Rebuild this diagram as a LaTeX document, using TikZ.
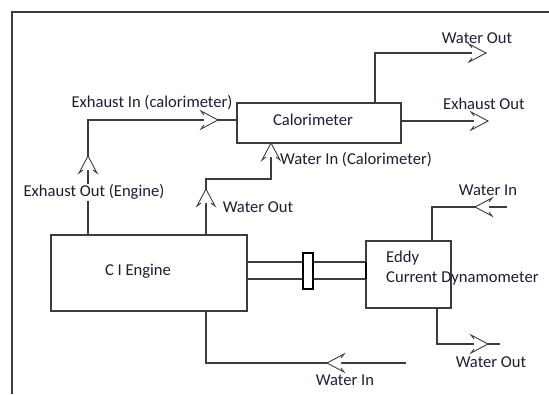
\documentclass[tikz,border=0pt]{standalone}
\usepackage{fontspec}
\setmainfont{Carlito}
\definecolor{linec}{HTML}{3C3C3C}
\definecolor{txtc}{HTML}{1A1F33}
\begin{document}
\begin{tikzpicture}[x=1pt,y=-1pt,
  every node/.style={font=\fontsize{16.6}{19}\selectfont, text=txtc, inner sep=0pt},
  box/.style={draw=linec, line width=1.2pt, fill=white, minimum width=#1},
  ln/.style={draw=linec, line width=1.1pt},
  lbl/.style={anchor=center},
  oarr/.pic={
    \fill[white] (0,0)--(-17,-9)--(-14,-5)--(-14,5)--(-17,9)--cycle;
    \draw[linec, line width=0.9pt] (-14,-5)--(-17,-9)--(0,0)--(-17,9)--(-14,5);
  }]
\useasboundingbox (0,0) rectangle (549,394);
% frame
\draw[ln] (12,394) -- (12,12) -- (549,12);

% boxes
\node[box=196pt, minimum height=76pt] (eng) at (149,273) {};
\node[lbl] (englbl) at (138,271) {C I Engine};
\node[box=164pt, minimum height=40pt] (cal) at (319,123) {};
\node[lbl] (callbl) at (313,120) {Calorimeter};

% shaft
\coordinate (s1a) at (247,262); \coordinate (s1b) at (366,262);
\coordinate (s2a) at (247,279); \coordinate (s2b) at (366,279);
\draw[ln] (s1a) -- (s1b);
\draw[ln] (s2a) -- (s2b);
\node[box=85pt, minimum height=67pt] (dyn) at (408.5,274.5) {};
\draw[draw=black, line width=1.8pt] (s1b) -- (s2b);
\node[draw=black, line width=1.1pt, fill=white, minimum width=10pt, minimum height=36pt] (coup) at (308,271) {};
\node[anchor=west] (eddy) at (386,258) {Eddy};
\node[anchor=west] (cdyn) at (386,278) {Current Dynamometer};

% exhaust engine -> calorimeter
\coordinate (ex1) at (88,120);
\draw[ln] (eng.north -| ex1) -- (ex1) -- (cal.west |- ex1);
\pic[rotate=90] at (88,156) {oarr};
\pic at (218,120) {oarr};
\node[lbl, fill=white, inner ysep=1pt] (exoe) at (94,192) {Exhaust Out (Engine)};
\node[lbl] (exic) at (152,103) {Exhaust In (calorimeter)};

% engine water out -> calorimeter water in
\coordinate (w1) at (206,179); \coordinate (w2) at (271,179);
\draw[ln] (eng.north -| w1) -- (w1) -- (w2) -- (cal.south -| w2);
\pic[rotate=90] at (206,189) {oarr};
\pic[rotate=90] at (271,143) {oarr};
\node[lbl] (wout1) at (258,207) {Water Out};
\node[lbl] (wincal) at (356,160) {Water In (Calorimeter)};

% calorimeter water out
\coordinate (cw1) at (375,53); \coordinate (cwend) at (486,53);
\draw[ln] (cal.north -| cw1) -- (cw1) -- (cwend);
\pic at (cwend) {oarr};
\node[lbl] (woutcal) at (477,38) {Water Out};

% calorimeter exhaust out
\coordinate (ceend) at (488,121);
\draw[ln] (cal.east |- ceend) -- (ceend);
\pic at (ceend) {oarr};
\node[lbl] (exout) at (484,104) {Exhaust Out};

% dynamometer water in
\coordinate (dw0) at (507,207); \coordinate (dw1) at (432,207);
\draw[ln] (dw0) -- (dw1) -- (dyn.north -| dw1);
\pic[rotate=180] at (475,207) {oarr};
\node[lbl] (dwin) at (488,190) {Water In};

% dynamometer water out
\coordinate (do1) at (437,344); \coordinate (doend) at (500,344);
\draw[ln] (dyn.south -| do1) -- (do1) -- (doend);
\pic at (488,344) {oarr};
\node[lbl] (dwout) at (491,362) {Water Out};

% engine water in
\coordinate (ew0) at (406,363); \coordinate (ew1) at (206,363);
\draw[ln] (ew0) -- (ew1) -- (eng.south -| ew1);
\pic[rotate=180] at (327,363) {oarr};
\node[lbl] (ewin) at (345,380) {Water In};
\end{tikzpicture}
\end{document}
